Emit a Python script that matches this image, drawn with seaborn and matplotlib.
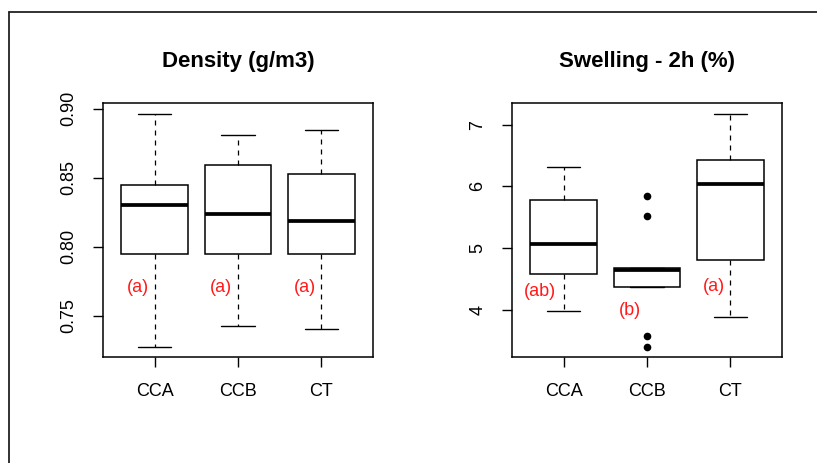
import matplotlib
matplotlib.use("Agg")

import numpy as np
import pandas as pd
import matplotlib.pyplot as plt
from matplotlib.lines import Line2D
import seaborn as sns

# groups
groups = ["CCA", "CCB", "CT"]

# Density (g/m3): five-number summary
dens_low = [0.7273, 0.7428, 0.7406]
dens_q1 = [0.7944, 0.7944, 0.7944]
dens_med = [0.8304, 0.8239, 0.8188]
dens_q3 = [0.8449, 0.8589, 0.8524]
dens_high = [0.8964, 0.8809, 0.8848]
dens_letters = ["(a)", "(a)", "(a)"]
dens_letter_y = [0.7703, 0.7703, 0.7703]

# Swelling - 2h (%)
swel_low = [3.973, 4.368, 3.881]
swel_q1 = [4.584, 4.368, 4.800]
swel_med = [5.070, 4.650, 6.043]
swel_q3 = [5.779, 4.676, 6.427]
swel_high = [6.314, 4.676, 7.178]
swel_out_group = ["CCB", "CCB", "CCB", "CCB"]
swel_out_val = [5.838, 5.524, 3.567, 3.395]
swel_letters = ["(ab)", "(b)", "(a)"]
swel_letter_y = [4.297, 3.989, 4.378]
swel_letter_dx = [-0.29, -0.21, -0.20]


def summary_frame(low, q1, med, q3, high):
    rows = []
    for g, a, b, c, d, e in zip(groups, low, q1, med, q3, high):
        for v in (a, b, c, d, e):
            rows.append({"group": g, "value": v})
    return pd.DataFrame(rows)


sns.set_style("ticks")
plt.rcParams["font.family"] = ["Liberation Sans", "DejaVu Sans"]
plt.rcParams["text.color"] = "black"
plt.rcParams["xtick.color"] = "black"
plt.rcParams["ytick.color"] = "black"

W, H = 817, 463
fig = plt.figure(figsize=(W / 100, H / 100), dpi=100)

ax1 = fig.add_axes([103 / W, 1 - 357 / H, 270 / W, 254 / H])
ax2 = fig.add_axes([512 / W, 1 - 357 / H, 270 / W, 254 / H])

box_kw = dict(
    color="white", linecolor="black", width=0.8, whis=np.inf, fliersize=0,
    boxprops={"edgecolor": "black", "linewidth": 1.1},
    medianprops={"color": "black", "linewidth": 2.7},
    whiskerprops={"color": "black", "linewidth": 0.9, "linestyle": (0, (4, 4))},
    capprops={"color": "black", "linewidth": 1.0},
)

panels = [
    (ax1, summary_frame(dens_low, dens_q1, dens_med, dens_q3, dens_high),
     "Density (g/m3)", (0.7201, 0.9041), [0.75, 0.80, 0.85, 0.90],
     ["0.75", "0.80", "0.85", "0.90"]),
    (ax2, summary_frame(swel_low, swel_q1, swel_med, swel_q3, swel_high),
     "Swelling - 2h (%)", (3.233, 7.352), [4, 5, 6, 7],
     ["4", "5", "6", "7"]),
]

for ax, df, title, ylim, yt, ytl in panels:
    sns.boxplot(data=df, x="group", y="value", order=groups, ax=ax, **box_kw)
    ax.set_xlim(-0.62, 2.62)
    ax.set_ylim(*ylim)
    ax.set_yticks(yt)
    ax.set_yticklabels(ytl, rotation=90, va="center")
    ax.set_xlabel("")
    ax.set_ylabel("")
    ax.set_title(title, fontsize=16, fontweight="bold", pad=26, color="black")
    ax.tick_params(axis="both", length=7.5, width=1.0, color="black",
                   labelcolor="black", labelsize=13, pad=11)
    for s in ax.spines.values():
        s.set_visible(True)
        s.set_color("black")
        s.set_linewidth(1.1)

# outliers in the swelling panel
sns.stripplot(x=swel_out_group, y=swel_out_val, order=groups, ax=ax2,
              jitter=False, color="black", size=5.5, linewidth=0)
ax2.set_xlim(-0.62, 2.62)
ax2.set_ylim(3.233, 7.352)

# significance letters
for i, (lab, y) in enumerate(zip(dens_letters, dens_letter_y)):
    ax1.text(i - 0.2, y, lab, color="#ff1a1a", fontsize=13, ha="center", va="center")
for i, (lab, y, dx) in enumerate(zip(swel_letters, swel_letter_y, swel_letter_dx)):
    ax2.text(i + dx, y, lab, color="#ff1a1a", fontsize=13, ha="center", va="center")

# outer frame (top and left edges visible)
fig.add_artist(Line2D([9 / W, 1], [1 - 12 / H, 1 - 12 / H], transform=fig.transFigure,
                      color="#222222", linewidth=1.3))
fig.add_artist(Line2D([9 / W, 9 / W], [0, 1 - 12 / H], transform=fig.transFigure,
                      color="#222222", linewidth=1.3))

fig.savefig("out.png", dpi=100, facecolor="white")
